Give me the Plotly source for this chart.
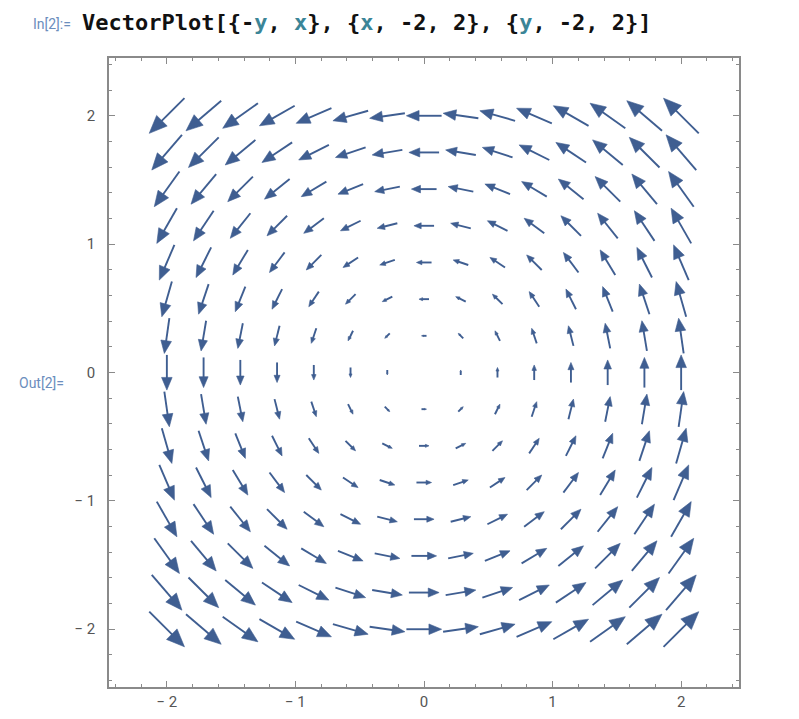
import plotly.graph_objects as go
import math

# Grid sample points used by VectorPlot (15 per axis on [-2, 2])
grid_x = [-2.0, -1.7143, -1.4286, -1.1429, -0.8571, -0.5714, -0.2857, 0.0,
          0.2857, 0.5714, 0.8571, 1.1429, 1.4286, 1.7143, 2.0]
grid_y = [-2.0, -1.7143, -1.4286, -1.1429, -0.8571, -0.5714, -0.2857, 0.0,
          0.2857, 0.5714, 0.8571, 1.1429, 1.4286, 1.7143, 2.0]

tick_vals = [-2, -1, 0, 1, 2]
tick_text = ["\u2212 2", "\u2212 1", "0", "1", "2"]

ARROW = "#3f5e91"
SCALE = 0.137        # arrow length (data units) per unit magnitude
HEAD_FRAC = 0.36
HEAD_HALF = 0.15

shaft_x, shaft_y, head_x, head_y = [], [], [], []
for gx in grid_x:
    for gy in grid_y:
        u, v = -gy, gx          # field {-y, x}
        mag = math.hypot(u, v)
        if mag < 1e-9:
            continue
        L = SCALE * mag
        dx, dy = u / mag, v / mag
        tx, ty = gx - dx * L / 2, gy - dy * L / 2
        hx, hy = gx + dx * L / 2, gy + dy * L / 2
        bx, by = hx - dx * L * HEAD_FRAC, hy - dy * L * HEAD_FRAC
        shaft_x += [tx, bx + dx * L * 0.05, None]
        shaft_y += [ty, by + dy * L * 0.05, None]
        w = HEAD_HALF * L
        px, py = -dy, dx
        head_x += [hx, bx + px * w, bx - px * w, hx, None]
        head_y += [hy, by + py * w, by - py * w, hy, None]

fig = go.Figure()
fig.add_trace(go.Scatter(x=shaft_x, y=shaft_y, mode="lines",
                         line=dict(color=ARROW, width=1.9),
                         hoverinfo="skip", showlegend=False))
fig.add_trace(go.Scatter(x=head_x, y=head_y, mode="lines", fill="toself",
                         fillcolor=ARROW, line=dict(color=ARROW, width=0.6),
                         hoverinfo="skip", showlegend=False))

axis_common = dict(
    range=[-2.45, 2.45], tickvals=tick_vals, ticktext=tick_text,
    ticks="inside", ticklen=6, tickwidth=1.2, tickcolor="#8a8a8a",
    showline=True, linecolor="#8a8a8a", linewidth=1.6, mirror="allticks",
    showgrid=False, zeroline=False, automargin=False,
    tickfont=dict(family="Roboto", size=15, color="#555555"),
    minor=dict(dtick=0.2, tick0=0, ticks="inside", ticklen=3,
               tickwidth=1, tickcolor="#8a8a8a", showgrid=False),
)

PL, PT, PW, PH = 101, 50, 630, 629
W, H = 790, 710
fig.update_layout(
    width=W, height=H,
    margin=dict(l=PL, r=W - PL - PW, t=PT, b=H - PT - PH),
    plot_bgcolor="white", paper_bgcolor="white",
    xaxis=dict(**axis_common),
    yaxis=dict(**axis_common, ticklabelstandoff=9),
    showlegend=False,
)

def px2paper(x, y):
    # x, y are page pixel positions (figure sits 8px inside the page)
    return (x - 8 - PL) / PW, (PT + PH - (y - 8)) / PH

TEAL = "#3b8597"
code = ('<b>VectorPlot[{-<span style="color:%s">y</span>, <span style="color:%s">x</span>}, '
        '{<span style="color:%s">x</span>, -2, 2}, {<span style="color:%s">y</span>, -2, 2}]</b>'
        % (TEAL, TEAL, TEAL, TEAL))
x0, y0 = px2paper(73, 24)
fig.add_annotation(text="In[2]:=", xref="paper", yref="paper",
                   x=x0, y=y0, xanchor="right", yanchor="middle",
                   showarrow=False, font=dict(family="Roboto", size=14, color="#6b8ebd"))
x1, y1 = px2paper(80, 22)
fig.add_annotation(text=code, xref="paper", yref="paper",
                   x=x1, y=y1, xanchor="left", yanchor="middle",
                   showarrow=False, font=dict(family="DejaVu Sans Mono", size=22, color="#111111"))
x2, y2 = px2paper(17, 383)
fig.add_annotation(text="Out[2]=", xref="paper", yref="paper",
                   x=x2, y=y2, xanchor="left", yanchor="middle",
                   showarrow=False, font=dict(family="Roboto", size=14, color="#6b8ebd"))

fig.write_html("out.html")
